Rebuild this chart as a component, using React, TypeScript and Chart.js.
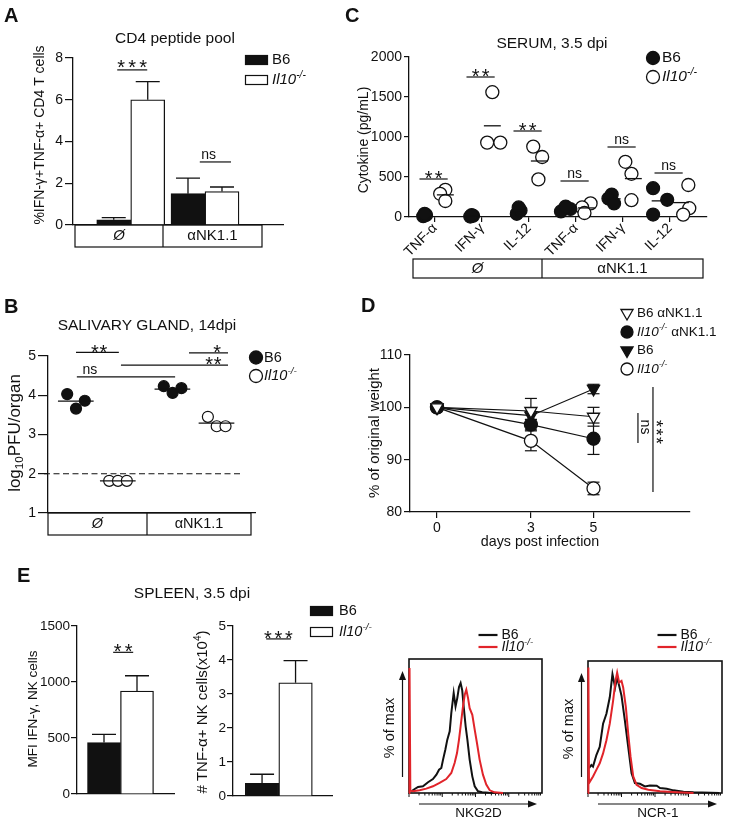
import React, { useEffect, useRef } from 'react';
import { Chart, registerables } from 'chart.js';

Chart.register(...registerables);

const PAGE_W = 729;
const PAGE_H = 823;
const FONT = '"Liberation Sans", Arial, Helvetica, sans-serif';
const INK = '#111111';
const RED = '#e1242a';

/* ====================== data ====================== */
// A — CD4 peptide pool
const aTreatments = ['Ø', 'αNK1.1'];
const aB6 = [0.25, 1.5];
const aB6Sem = [0.1, 0.75];
const aIl10 = [6.0, 1.6];
const aIl10Sem = [0.87, 0.22];
const aSigLabels = ['***', 'ns'];
const aSigLevels = [7.43, 3.02];

// B — salivary gland, 14 dpi (log10 PFU/organ)
const bTreatments = ['Ø', 'αNK1.1'];
const bB6Ctrl = [4.03, 3.66, 3.86];
const bIl10Ctrl = [1.82, 1.82, 1.82];
const bB6Nk = [4.23, 4.06, 4.18];
const bIl10Nk = [3.45, 3.21, 3.21];
const bDetectionLimit = 2;
const bSigLabels = ['**', 'ns', '**', '*'];
const bSigLevels = [5.09, 4.47, 4.77, 5.08];

// C — serum cytokines, 3.5 dpi (pg/mL)
const cCytokines = ['TNF-α', 'IFN-γ', 'IL-12', 'TNF-α', 'IFN-γ', 'IL-12'];
const cTreatments = ['Ø', 'αNK1.1'];
const cB6 = [[10, 25, 40], [5, 15, 25], [40, 80, 120], [70, 100, 130], [280, 230, 170], [360, 215, 30]];
const cIl10 = [[340, 290, 200], [1560, 930, 930], [880, 750, 470], [170, 120, 50], [690, 540, 210], [400, 110, 30]];
const cSigLabels = ['**', '**', '**', 'ns', 'ns', 'ns'];
const cSigLevels = [475, 1750, 1075, 450, 875, 550];

// D — weight
const dDays = [0, 3, 5];
const dB6Nk = [100, 99.3, 98.2];
const dB6NkSem = [0.3, 2.4, 1.8];
const dIl10Nk = [100, 96.7, 94.0];
const dIl10NkSem = [0.3, 1.0, 3.0];
const dB6 = [100, 98.4, 103.5];
const dB6Sem = [0.3, 0.8, 0.9];
const dIl10 = [100, 93.6, 84.5];
const dIl10Sem = [0.3, 1.9, 1.2];
const dSigLabels = ['ns', '***'];
const dSigRanges = [[98.9, 93.2], [103.9, 83.8]];

// E — spleen, 3.5 dpi
const eIfnMfi = [460, 920];
const eIfnMfiSem = [73, 136];
const eTnfCells = [0.37, 3.33];
const eTnfCellsSem = [0.27, 0.65];
const eSigLabels = ['**', '***'];
const eSigLevels = [1265, 4.62];

// E — histograms (x: fluorescence channel 0-100, y: % of max)
const nkg2dB6X = [1.8, 4.3, 6.8, 10.5, 14.3, 18, 20.6, 22.6, 24.3, 25.6, 27.3, 28.8, 30.6, 31.8, 33.6, 35, 36.3, 37.6, 38.8, 40, 41.1, 42.6, 43.9, 45.6, 47.6, 49.4, 51.9, 55, 60, 70];
const nkg2dB6Y = [1.5, 3.6, 5.4, 6, 9.6, 12.5, 16.4, 20.9, 22.4, 29.9, 38.8, 47.8, 55.2, 71.6, 89.6, 77.6, 85, 95, 98.5, 92, 77.6, 59.7, 47.8, 29.9, 14.9, 6, 1.5, 0.6, 0.3, 0];
const nkg2dIl10X = [0, 0.4, 1.0, 3, 8, 13, 18, 23, 28, 31.8, 34.3, 36.1, 37.6, 38.8, 40.6, 41.9, 43.1, 44.4, 45.6, 47.6, 49.4, 51.1, 53.1, 55.6, 58.1, 60.7, 64.4, 70.7];
const nkg2dIl10Y = [0, 112, 2, 1.5, 2.4, 3.9, 6, 9, 12.5, 17.9, 26.9, 35.8, 47.8, 59.7, 77.6, 88, 92.5, 85, 76, 70, 56.7, 44.8, 29.9, 16.4, 7.5, 2.4, 0.6, 0];
const ncr1B6X = [0.75, 2.5, 3.75, 6.25, 8.75, 10, 11.25, 13.75, 16.25, 18.25, 19.25, 20.25, 21.75, 23.25, 25, 27.5, 30, 32.5, 35, 38.75, 42.5, 46.25, 51.25, 53.75, 58.75, 63.75, 71.25, 78.75, 98];
const ncr1B6Y = [22.5, 25.5, 24, 34.5, 42, 52.5, 63, 72, 87, 108, 102, 96, 105, 97.5, 88.5, 66, 42, 18, 9, 8.4, 6, 6.9, 6.6, 4.5, 3.9, 2.4, 1.2, 0.6, 0];
const ncr1Il10X = [0, 0.3, 0.75, 3.75, 6.25, 8.75, 11.25, 13.75, 16.25, 18.75, 20.5, 21.75, 23.25, 25, 26.25, 28.25, 30, 31.75, 33.75, 36.25, 40, 45, 53.75, 66.25, 78.75];
const ncr1Il10Y = [0, 114, 9, 15, 21, 27, 36, 48, 63, 84, 102, 109.5, 100.5, 102, 96, 78, 54, 33, 15, 7.5, 4.5, 3, 1.5, 0.6, 0];

/* ====================== drawing helpers ====================== */
type Area = [number, number, number, number];
type Seg = { t: string; it?: boolean; b?: boolean; sup?: boolean; sub?: boolean };

const fontStr = (size: number, it?: boolean, b?: boolean) => `${it ? 'italic ' : ''}${b ? 'bold ' : ''}${size}px ${FONT}`;

function rich(ctx: CanvasRenderingContext2D, segs: Seg[], x: number, y: number, size: number, align = 'left', rot = 0, color = INK) {
  ctx.save();
  ctx.translate(x, y);
  if (rot) ctx.rotate(rot);
  ctx.fillStyle = color;
  ctx.textBaseline = 'middle';
  ctx.textAlign = 'left';
  const items = segs.map((s) => {
    const sz = s.sup || s.sub ? size * 0.68 : size;
    ctx.font = fontStr(sz, s.it, s.b);
    return { s, sz, w: ctx.measureText(s.t).width };
  });
  const total = items.reduce((a, it) => a + it.w, 0);
  let cx = align === 'left' ? 0 : align === 'center' ? -total / 2 : -total;
  for (const it of items) {
    ctx.font = fontStr(it.sz, it.s.it, it.s.b);
    const dy = it.s.sup ? -size * 0.32 : it.s.sub ? size * 0.3 : 0;
    ctx.fillText(it.s.t, cx, dy);
    cx += it.w;
  }
  ctx.restore();
}
function text(ctx: any, t: string, x: number, y: number, size: number, align = 'center', rot = 0, opt: any = {}) {
  rich(ctx, [{ t, ...opt }], x, y, size, align, rot);
}
function letter(ctx: any, t: string, x: number, baseline: number) {
  ctx.save();
  ctx.fillStyle = INK;
  ctx.font = fontStr(20, false, true);
  ctx.textAlign = 'left';
  ctx.textBaseline = 'alphabetic';
  ctx.fillText(t, x, baseline);
  ctx.restore();
}
function stars(ctx: any, n: number, cx: number, cy: number, spacing: number, size = 20, rot = 0) {
  ctx.save();
  ctx.translate(cx, cy);
  if (rot) ctx.rotate(rot);
  ctx.fillStyle = INK;
  ctx.font = fontStr(size);
  ctx.textAlign = 'center';
  ctx.textBaseline = 'alphabetic';
  for (let k = 0; k < n; k++) ctx.fillText('*', (k - (n - 1) / 2) * spacing, size * 0.58);
  ctx.restore();
}
function sigLabel(ctx: any, label: string, cx: number, lineY: number, gap: number, spacing: number) {
  if (label === 'ns') text(ctx, 'ns', cx, lineY - gap - 0.09 * 14, 14);
  else stars(ctx, label.length, cx, lineY - gap, spacing);
}
function seg(ctx: any, x1: number, y1: number, x2: number, y2: number, w = 1.2, color = INK, dash: number[] = []) {
  ctx.save();
  ctx.strokeStyle = color;
  ctx.lineWidth = w;
  ctx.setLineDash(dash);
  ctx.beginPath();
  ctx.moveTo(x1, y1);
  ctx.lineTo(x2, y2);
  ctx.stroke();
  ctx.restore();
}
function dot(ctx: any, x: number, y: number, r: number, filled: boolean) {
  ctx.save();
  ctx.beginPath();
  ctx.arc(x, y, r, 0, Math.PI * 2);
  ctx.fillStyle = filled ? INK : '#fff';
  ctx.fill();
  ctx.lineWidth = 1.3;
  ctx.strokeStyle = INK;
  ctx.stroke();
  ctx.restore();
}
function triDown(ctx: any, x: number, y: number, r: number, filled: boolean) {
  const s = Math.sin(Math.PI / 3) * r;
  ctx.save();
  ctx.beginPath();
  ctx.moveTo(x, y + r);
  ctx.lineTo(x - s, y - r / 2);
  ctx.lineTo(x + s, y - r / 2);
  ctx.closePath();
  ctx.fillStyle = filled ? INK : '#fff';
  ctx.fill();
  ctx.lineWidth = 1.3;
  ctx.strokeStyle = INK;
  ctx.stroke();
  ctx.restore();
}
function legendBox(ctx: any, x: number, y: number, filled: boolean) {
  ctx.save();
  ctx.fillStyle = filled ? INK : '#fff';
  ctx.fillRect(x, y - 4.5, 23, 9);
  ctx.strokeStyle = INK;
  ctx.lineWidth = 1.2;
  ctx.strokeRect(x + 0.5, y - 4.5, 22, 9);
  ctx.restore();
}
function categoryBox(ctx: any, l: number, t: number, r: number, b: number, mid: number, labels: string[], size: number) {
  ctx.save();
  ctx.strokeStyle = INK;
  ctx.lineWidth = 1.2;
  ctx.strokeRect(l, t, r - l, b - t);
  ctx.beginPath();
  ctx.moveTo(mid, t);
  ctx.lineTo(mid, b);
  ctx.stroke();
  ctx.restore();
  const cy = (t + b) / 2;
  text(ctx, labels[0], (l + mid) / 2, cy, size, 'center', 0, { it: true });
  text(ctx, labels[1], (mid + r) / 2, cy, size, 'center');
}
function barErrors(chart: any, vals: number[][], sems: number[][], capHalf: number) {
  const ctx = chart.ctx;
  const y = chart.scales.y;
  ctx.save();
  ctx.strokeStyle = INK;
  ctx.lineWidth = 1.3;
  vals.forEach((series, i) => {
    const meta = chart.getDatasetMeta(i);
    series.forEach((v, j) => {
      const el: any = meta.data[j];
      if (!el) return;
      const top = y.getPixelForValue(v + sems[i][j]);
      ctx.beginPath();
      ctx.moveTo(el.x, el.y);
      ctx.lineTo(el.x, top);
      ctx.moveTo(el.x - capHalf, top);
      ctx.lineTo(el.x + capHalf, top);
      ctx.stroke();
    });
  });
  ctx.restore();
}
const IL10: Seg[] = [{ t: 'Il10', it: true }, { t: '-/-', it: true, sup: true }];
const mean = (a: number[]) => a.reduce((s, v) => s + v, 0) / a.length;

/* ====================== chart scaffolding ====================== */
function basics(area: Area, yW: number, xH: number) {
  return {
    responsive: false,
    maintainAspectRatio: false,
    animation: false,
    devicePixelRatio: 1,
    events: [],
    layout: { padding: { left: area[0] - yW, top: area[1], right: PAGE_W - area[2], bottom: PAGE_H - area[3] - xH } },
    plugins: { legend: { display: false }, tooltip: { enabled: false }, title: { display: false } },
  };
}
const tickFont = { family: FONT, size: 14 };
function yAxis(min: number, max: number, step: number, tickLen: number, size = 14, pad = 2) {
  return {
    type: 'linear', min, max,
    afterFit: (s: any) => { s.width = 44; },
    ticks: { stepSize: step, color: INK, font: { family: FONT, size }, padding: pad, callback: (v: number) => String(v) },
    grid: { display: true, drawOnChartArea: false, drawTicks: true, tickLength: tickLen, color: INK, lineWidth: 1.2 },
    border: { display: true, color: INK, width: 1.3 },
  };
}
function xPlain(min: number, max: number) {
  return {
    type: 'linear', min, max,
    afterFit: (s: any) => { s.height = 0; },
    ticks: { display: false },
    grid: { display: false },
    border: { display: true, color: INK, width: 1.3 },
  };
}

/* ---------- A ---------- */
function configA() {
  const area: Area = [73, 58, 283, 225];
  const groupX = [1, 2];
  return {
    type: 'bar',
    data: {
      datasets: [
        { data: aB6.map((v, i) => ({ x: groupX[i], y: v })), backgroundColor: INK, borderColor: INK, borderWidth: 1.3, barThickness: 34 },
        { data: aIl10.map((v, i) => ({ x: groupX[i], y: v })), backgroundColor: '#fff', borderColor: INK, borderWidth: 1.3, barThickness: 34 },
      ],
    },
    options: { ...basics(area, 44, 0), scales: { x: xPlain(0.576, 2.697), y: yAxis(0, 8, 2, 8) } },
    plugins: [{
      id: 'pA',
      afterDatasetsDraw(chart: any) {
        const ctx = chart.ctx, x = chart.scales.x, y = chart.scales.y;
        barErrors(chart, [aB6, aIl10], [aB6Sem, aIl10Sem], 12);
        const spans = [[0.818, 1.222], [1.93, 2.35]];
        const textX = [1.02, 2.05];
        aSigLabels.forEach((lab, i) => {
          const ly = y.getPixelForValue(aSigLevels[i]);
          seg(ctx, x.getPixelForValue(spans[i][0]), ly, x.getPixelForValue(spans[i][1]), ly, 1.2);
          sigLabel(ctx, lab, x.getPixelForValue(textX[i]), ly, lab === 'ns' ? 6 : 7, 11);
        });
      },
      afterDraw(chart: any) {
        const ctx = chart.ctx;
        letter(ctx, 'A', 4, 22);
        text(ctx, 'CD4 peptide pool', 175, 38.5, 15.5);
        text(ctx, '%IFN-γ+TNF-α+ CD4 T cells', 40, 135, 14, 'center', -Math.PI / 2);
        legendBox(ctx, 245, 60, true);
        text(ctx, 'B6', 272, 60, 15, 'left');
        legendBox(ctx, 245, 80, false);
        rich(ctx, IL10, 272, 80, 15, 'left');
        categoryBox(ctx, 75, 225, 262, 247, 163, aTreatments, 15);
      },
    }],
  };
}

/* ---------- B ---------- */
function configB() {
  const area: Area = [48, 356, 255, 513];
  const cols = [0, 1, 2.3, 3.35];
  const spread = [-0.21, 0, 0.21];
  const pts = (vals: number[], col: number) => vals.map((v, k) => ({ x: cols[col] + spread[k], y: v }));
  const groups = [bB6Ctrl, bIl10Ctrl, bB6Nk, bIl10Nk];
  return {
    type: 'scatter',
    data: {
      datasets: [
        { data: [...pts(bB6Ctrl, 0), ...pts(bB6Nk, 2)], pointRadius: 5.5, pointBackgroundColor: INK, pointBorderColor: INK, pointBorderWidth: 1.2, clip: false },
        { data: [...pts(bIl10Ctrl, 1), ...pts(bIl10Nk, 3)], pointRadius: 5.5, pointBackgroundColor: '#fff', pointBorderColor: INK, pointBorderWidth: 1.2, clip: false },
      ],
    },
    options: { ...basics(area, 44, 0), scales: { x: xPlain(-0.667, 4.262), y: yAxis(1, 5, 1, 10) } },
    plugins: [{
      id: 'pB',
      beforeDatasetsDraw(chart: any) {
        const ctx = chart.ctx, x = chart.scales.x, y = chart.scales.y;
        const ly = y.getPixelForValue(bDetectionLimit);
        seg(ctx, chart.chartArea.left - 4, ly, x.getPixelForValue(3.98), ly, 1.2, INK, [6, 3.5]);
      },
      afterDatasetsDraw(chart: any) {
        const ctx = chart.ctx, x = chart.scales.x, y = chart.scales.y;
        groups.forEach((g, i) => {
          const my = y.getPixelForValue(mean(g));
          seg(ctx, x.getPixelForValue(cols[i] - 0.43), my, x.getPixelForValue(cols[i] + 0.42), my, 1.3);
        });
        const spans = [[0, 1.02], [0.02, 2.36], [1.07, 3.62], [2.69, 3.62]];
        const textX = [0.55, 0.33, 3.27, 3.36];
        bSigLabels.forEach((lab, i) => {
          const ly = y.getPixelForValue(bSigLevels[i]);
          seg(ctx, x.getPixelForValue(spans[i][0]), ly, x.getPixelForValue(spans[i][1]), ly, 1.2);
          sigLabel(ctx, lab, x.getPixelForValue(textX[i]), ly, 5.5, 8.5);
        });
      },
      afterDraw(chart: any) {
        const ctx = chart.ctx;
        letter(ctx, 'B', 4, 313);
        text(ctx, 'SALIVARY GLAND, 14dpi', 147, 325.5, 15.5);
        rich(ctx, [{ t: 'log' }, { t: '10', sub: true }, { t: 'PFU/organ' }], 15, 433, 17, 'center', -Math.PI / 2);
        dot(ctx, 256, 357.5, 6.5, true);
        text(ctx, 'B6', 264, 358, 14.5, 'left');
        dot(ctx, 256, 376, 6.5, false);
        rich(ctx, IL10, 264, 376, 14.5, 'left');
        categoryBox(ctx, 48, 513, 251, 535, 147, bTreatments, 14.5);
      },
    }],
  };
}

/* ---------- C ---------- */
function configC() {
  const area: Area = [409, 57, 707, 217];
  const PAIR = 0.22;
  const jB6 = [[-0.03, 0.03, 0], [-0.03, 0.03, 0], [-0.04, 0.04, 0], [-0.1, 0.1, 0], [-0.02, -0.09, 0.03], [-0.14, 0.16, -0.14]];
  const jIl = [[0, -0.11, 0], [0, -0.11, 0.17], [-0.13, 0.06, -0.02], [0.09, -0.09, -0.04], [-0.17, -0.04, -0.04], [0.17, 0.19, 0.06]];
  const b6Pts = cB6.flatMap((vals, c) => vals.map((v, k) => ({ x: c - PAIR + jB6[c][k], y: v })));
  const ilPts = cIl10.flatMap((vals, c) => vals.map((v, k) => ({ x: c + PAIR + jIl[c][k], y: v })));
  return {
    type: 'scatter',
    data: {
      datasets: [
        { data: b6Pts, pointRadius: 6.5, pointBackgroundColor: INK, pointBorderColor: INK, pointBorderWidth: 1.2, clip: false },
        { data: ilPts, pointRadius: 6.5, pointBackgroundColor: '#fff', pointBorderColor: INK, pointBorderWidth: 1.3, clip: false },
      ],
    },
    options: {
      ...basics(area, 44, 40),
      scales: {
        x: {
          type: 'linear', min: -0.553, max: 5.787,
          afterBuildTicks: (s: any) => { s.ticks = cCytokines.map((_, i) => ({ value: i })); },
          afterFit: (s: any) => { s.height = 40; },
          ticks: { callback: (v: number) => cCytokines[Math.round(v)], minRotation: 45, maxRotation: 45, autoSkip: false, color: INK, font: tickFont, padding: -2 },
          grid: { display: true, drawOnChartArea: false, drawTicks: true, tickLength: 5, color: INK, lineWidth: 1.2 },
          border: { display: true, color: INK, width: 1.3 },
        },
        y: yAxis(0, 2000, 500, 5),
      },
    },
    plugins: [{
      id: 'pC',
      afterDatasetsDraw(chart: any) {
        const ctx = chart.ctx, x = chart.scales.x, y = chart.scales.y;
        cB6.forEach((vals, c) => {
          const my = y.getPixelForValue(mean(vals));
          seg(ctx, x.getPixelForValue(c - PAIR - 0.17), my, x.getPixelForValue(c - PAIR + 0.17), my, 1.3);
        });
        cIl10.forEach((vals, c) => {
          const my = y.getPixelForValue(mean(vals));
          seg(ctx, x.getPixelForValue(c + PAIR - 0.18), my, x.getPixelForValue(c + PAIR + 0.18), my, 1.3);
        });
        cSigLabels.forEach((lab, c) => {
          const ly = y.getPixelForValue(cSigLevels[c]);
          const x1 = x.getPixelForValue(c - 0.33), x2 = x.getPixelForValue(c + 0.27);
          seg(ctx, x1, ly, x2, ly, 1.2);
          sigLabel(ctx, lab, (x1 + x2) / 2, ly, 6, 10);
        });
      },
      afterDraw(chart: any) {
        const ctx = chart.ctx;
        letter(ctx, 'C', 345, 22);
        text(ctx, 'SERUM, 3.5 dpi', 552, 44, 15.5);
        text(ctx, 'Cytokine (pg/mL)', 364, 140, 14, 'center', -Math.PI / 2);
        dot(ctx, 653, 58, 6.5, true);
        text(ctx, 'B6', 662, 58, 15.5, 'left');
        dot(ctx, 653, 77, 6.5, false);
        rich(ctx, IL10, 662, 77, 15.5, 'left');
        categoryBox(ctx, 413, 259, 703, 278, 542, cTreatments, 15);
      },
    }],
  };
}

/* ---------- D ---------- */
function configD() {
  const area: Area = [410, 355, 690, 512];
  const series = [
    { vals: dB6Nk, sem: dB6NkSem, style: 'triangle', rot: 180, fill: '#fff', r: 7 },
    { vals: dIl10Nk, sem: dIl10NkSem, style: 'circle', rot: 0, fill: INK, r: 6.5 },
    { vals: dB6, sem: dB6Sem, style: 'triangle', rot: 180, fill: INK, r: 7 },
    { vals: dIl10, sem: dIl10Sem, style: 'circle', rot: 0, fill: '#fff', r: 6.5 },
  ];
  return {
    type: 'line',
    data: {
      datasets: series.map((s) => ({
        data: dDays.map((d, i) => ({ x: d, y: s.vals[i] })),
        borderColor: INK, borderWidth: 1.2, fill: false, tension: 0, clip: false,
        pointStyle: s.style, pointRotation: s.rot, pointRadius: s.r,
        pointBackgroundColor: s.fill, pointBorderColor: INK, pointBorderWidth: 1.3,
      })),
    },
    options: {
      ...basics(area, 44, 26),
      scales: {
        x: {
          type: 'linear', min: -0.863, max: 8.083,
          afterBuildTicks: (s: any) => { s.ticks = dDays.map((v) => ({ value: v })); },
          afterFit: (s: any) => { s.height = 26; },
          ticks: { color: INK, font: tickFont, padding: 2, autoSkip: false, maxRotation: 0 },
          grid: { display: true, drawOnChartArea: false, drawTicks: true, tickLength: 6, color: INK, lineWidth: 1.2 },
          border: { display: true, color: INK, width: 1.3 },
        },
        y: yAxis(80, 110, 10, 6),
      },
    },
    plugins: [{
      id: 'pD',
      beforeDatasetsDraw(chart: any) {
        const ctx = chart.ctx, y = chart.scales.y;
        series.forEach((s, i) => {
          const meta = chart.getDatasetMeta(i);
          s.vals.forEach((v, j) => {
            const el: any = meta.data[j];
            const t = y.getPixelForValue(v + s.sem[j]);
            const b = y.getPixelForValue(v - s.sem[j]);
            seg(ctx, el.x, t, el.x, b, 1.2);
            seg(ctx, el.x - 6, t, el.x + 6, t, 1.2);
            seg(ctx, el.x - 6, b, el.x + 6, b, 1.2);
          });
        });
      },
      afterDraw(chart: any) {
        const ctx = chart.ctx, x = chart.scales.x, y = chart.scales.y;
        const lineX = [6.42, 6.9];
        const textX = [6.65, 7.15];
        dSigLabels.forEach((lab, i) => {
          const lx = x.getPixelForValue(lineX[i]);
          const y1 = y.getPixelForValue(dSigRanges[i][0]), y2 = y.getPixelForValue(dSigRanges[i][1]);
          seg(ctx, lx, y1, lx, y2, 1.2);
          const tx = x.getPixelForValue(textX[i]);
          if (lab === 'ns') text(ctx, 'ns', tx, 427, 14, 'center', Math.PI / 2);
          else stars(ctx, 3, tx, 432, 8.5, 18, Math.PI / 2);
        });
        letter(ctx, 'D', 361, 312);
        text(ctx, '% of original weight', 375, 433, 15, 'center', -Math.PI / 2);
        text(ctx, 'days post infection', 540, 542.5, 14.3);
        const rows = [313, 332, 350.5, 369];
        triDown(ctx, 627, rows[0], 7, false);
        text(ctx, 'B6 αNK1.1', 637, rows[0], 13.5, 'left');
        dot(ctx, 627, rows[1], 6, true);
        rich(ctx, [...IL10, { t: ' αNK1.1' }], 637, rows[1], 13.5, 'left');
        triDown(ctx, 627, rows[2], 7, true);
        text(ctx, 'B6', 637, rows[2], 13.5, 'left');
        dot(ctx, 627, rows[3], 6, false);
        rich(ctx, IL10, 637, rows[3], 13.5, 'left');
      },
    }],
  };
}

/* ---------- E bars ---------- */
function configEBar(area: Area, groupX: number, thick: number, vals: number[], sems: number[], yMax: number, step: number, sigIdx: number, sigSpan: number[], starSpacing: number, extra: (ctx: any) => void) {
  return {
    type: 'bar',
    data: {
      datasets: [
        { data: [{ x: groupX, y: vals[0] }], backgroundColor: INK, borderColor: INK, borderWidth: 1.3, barThickness: thick },
        { data: [{ x: groupX, y: vals[1] }], backgroundColor: '#fff', borderColor: INK, borderWidth: 1.3, barThickness: thick },
      ],
    },
    options: { ...basics(area, 44, 0), scales: { x: xPlain(0, 1), y: yAxis(0, yMax, step, 6, 13.5, 1) } },
    plugins: [{
      id: 'pE' + sigIdx,
      afterDatasetsDraw(chart: any) {
        const ctx = chart.ctx, x = chart.scales.x, y = chart.scales.y;
        barErrors(chart, [[vals[0]], [vals[1]]], [[sems[0]], [sems[1]]], 12);
        const ly = y.getPixelForValue(eSigLevels[sigIdx]);
        const x1 = x.getPixelForValue(sigSpan[0]), x2 = x.getPixelForValue(sigSpan[1]);
        seg(ctx, x1, ly, x2, ly, 1.2);
        sigLabel(ctx, eSigLabels[sigIdx], (x1 + x2) / 2, ly, 6, starSpacing);
      },
      afterDraw(chart: any) { extra(chart.ctx); },
    }],
  };
}
function configE1() {
  return configEBar([77, 626, 174, 794], 0.4227, 33, eIfnMfi, eIfnMfiSem, 1500, 500, 0, [0.309, 0.619], 11, (ctx) => {
    letter(ctx, 'E', 17, 582);
    text(ctx, 'SPLEEN, 3.5 dpi', 192, 593.5, 15.5);
    text(ctx, 'MFI IFN-γ, NK cells', 33.5, 709, 13.5, 'center', -Math.PI / 2);
    legendBox(ctx, 310, 611, true);
    text(ctx, 'B6', 339, 611, 14.5, 'left');
    legendBox(ctx, 310, 632, false);
    rich(ctx, IL10, 339, 632, 14.5, 'left');
  });
}
function configE2() {
  return configEBar([233, 626, 332, 796], 0.444, 33.5, eTnfCells, eTnfCellsSem, 5, 1, 1, [0.253, 0.626], 10.5, (ctx) => {
    rich(ctx, [{ t: '# TNF-α+ NK cells(x10' }, { t: '4', sup: true }, { t: ')' }], 203, 712, 15, 'center', -Math.PI / 2);
  });
}

/* ---------- E histograms ---------- */
function arrow(ctx: any, x1: number, y1: number, x2: number, y2: number) {
  const ang = Math.atan2(y2 - y1, x2 - x1);
  const L = 9, Wd = 3.5;
  const bx = x2 - Math.cos(ang) * L, by = y2 - Math.sin(ang) * L;
  seg(ctx, x1, y1, bx, by, 1.2);
  ctx.save();
  ctx.fillStyle = INK;
  ctx.beginPath();
  ctx.moveTo(x2, y2);
  ctx.lineTo(bx - Math.sin(ang) * Wd, by + Math.cos(ang) * Wd);
  ctx.lineTo(bx + Math.sin(ang) * Wd, by - Math.cos(ang) * Wd);
  ctx.closePath();
  ctx.fill();
  ctx.restore();
}
function configHist(area: Area, b6X: number[], b6Y: number[], ilX: number[], ilY: number[], label: string) {
  const zip = (xs: number[], ys: number[]) => xs.map((v, i) => ({ x: v, y: ys[i] }));
  return {
    type: 'scatter',
    data: {
      datasets: [
        { data: zip(ilX, ilY), showLine: true, borderColor: RED, borderWidth: 2, pointRadius: 0, tension: 0, order: 0, clip: false },
        { data: zip(b6X, b6Y), showLine: true, borderColor: INK, borderWidth: 2, pointRadius: 0, tension: 0, order: 1, clip: false },
      ],
    },
    options: {
      ...basics(area, 0, 0),
      scales: {
        x: { type: 'linear', min: 0, max: 100, display: false },
        y: { type: 'linear', min: 0, max: 120, display: false },
      },
    },
    plugins: [{
      id: 'pH' + label,
      beforeDatasetsDraw(chart: any) {
        const ctx = chart.ctx, a = chart.chartArea;
        ctx.save();
        ctx.strokeStyle = INK;
        ctx.lineWidth = 1.6;
        ctx.strokeRect(a.left, a.top, a.right - a.left, a.bottom - a.top);
        ctx.restore();
        const decades = 4;
        const dw = (a.right - a.left) / decades;
        for (let d = 0; d < decades; d++) {
          for (let k = 1; k <= 9; k++) {
            const xx = a.left + dw * (d + Math.log10(k));
            seg(ctx, xx, a.bottom, xx, a.bottom + (k === 1 ? 4 : 2.5), 1);
          }
        }
      },
      afterDraw(chart: any) {
        const ctx = chart.ctx, a = chart.chartArea;
        arrow(ctx, a.left - 6.5, a.bottom - 16, a.left - 6.5, a.top + 12);
        arrow(ctx, a.left + 10, a.bottom + 11, a.right - 5, a.bottom + 11);
        text(ctx, '% of max', a.left - 19, (a.top + a.bottom) / 2 + 2, 14.5, 'center', -Math.PI / 2);
        text(ctx, label, (a.left + a.right) / 2 + 3, a.bottom + 20, 13.5);
        const lx = a.left + 69.5;
        seg(ctx, lx, 635, lx + 19, 635, 2.2, INK);
        text(ctx, 'B6', lx + 23, 635, 14, 'left');
        seg(ctx, lx, 647, lx + 19, 647, 2.2, RED);
        rich(ctx, IL10, lx + 23, 647, 14, 'left');
      },
    }],
  };
}
function configH1() {
  return configHist([409, 659, 542, 793], nkg2dB6X, nkg2dB6Y, nkg2dIl10X, nkg2dIl10Y, 'NKG2D');
}
function configH2() {
  return configHist([588, 661, 722, 793], ncr1B6X, ncr1B6Y, ncr1Il10X, ncr1Il10Y, 'NCR-1');
}

/* ====================== component ====================== */
export default function App() {
  const refs = useRef<(HTMLCanvasElement | null)[]>([]);
  useEffect(() => {
    Chart.defaults.font.family = FONT;
    Chart.defaults.color = INK;
    const configs = [configA(), configB(), configC(), configD(), configE1(), configE2(), configH1(), configH2()];
    const charts = configs.map((cfg, i) => new Chart(refs.current[i] as HTMLCanvasElement, cfg as any));
    return () => charts.forEach((c) => c.destroy());
  }, []);
  return (
    <div style={{ position: 'absolute', left: 0, top: 0, width: PAGE_W, height: PAGE_H, background: '#fff', overflow: 'hidden' }}>
      {Array.from({ length: 8 }).map((_, i) => (
        <canvas
          key={i}
          ref={(el) => { refs.current[i] = el; }}
          width={PAGE_W}
          height={PAGE_H}
          style={{ position: 'absolute', left: 0, top: 0, width: PAGE_W, height: PAGE_H }}
        />
      ))}
    </div>
  );
}
